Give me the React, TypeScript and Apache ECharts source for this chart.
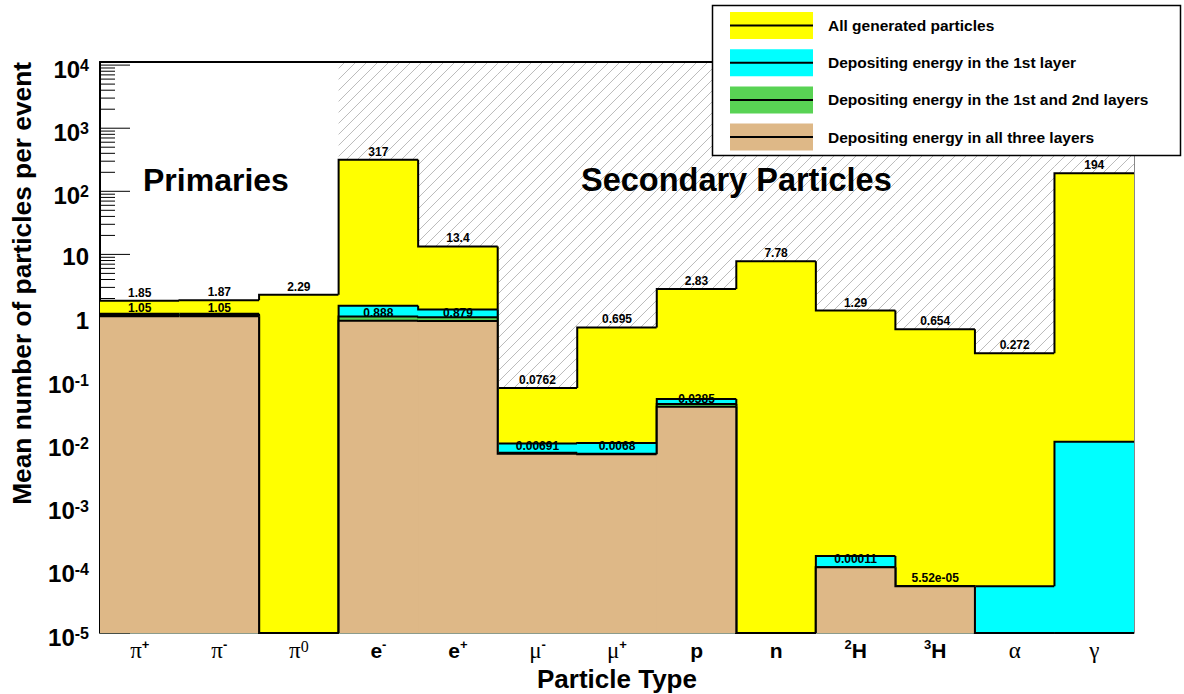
import React, { useEffect, useRef } from 'react';
import * as echarts from 'echarts';

// ---------- data ----------
const categoryLabels = [
  '{g|π}{gs|+}', '{g|π}{gs|-}', '{g|π}{g0|0}', '{b|e}{bs|-}', '{b|e}{bs|+}',
  '{g|μ}{gs|-}', '{g|μ}{gs|+}', '{b|p}', '{b|n}', '{bs|2}{b|H}', '{bs|3}{b|H}', '{g|α}', '{g|γ}',
];
const particleOrigin = [
  'primary', 'primary', 'primary', 'secondary', 'secondary', 'secondary', 'secondary',
  'secondary', 'secondary', 'secondary', 'secondary', 'secondary', 'secondary',
];
const allGenerated = [1.85, 1.87, 2.29, 317, 13.4, 0.0762, 0.695, 2.83, 7.78, 1.29, 0.654, 0.272, 194];
const firstLayer = [1.15, 1.15, 0, 1.53, 1.34, 0.0101, 0.0103, 0.051, 0, 0.000166, 0.0000552, 0.0000553, 0.0107];
const firstSecondLayers = [1.1, 1.1, 0, 1.04, 1.01, 0.0072, 0.0069, 0.0425, 0, 0.00011, 0.0000552, 0, 0];
const allThreeLayers = [1.05, 1.05, 0, 0.888, 0.879, 0.00691, 0.0068, 0.0385, 0, 0.00011, 0.0000552, 0, 0];
const legendNames = [
  'All generated particles',
  'Depositing energy in the 1st layer',
  'Depositing energy in the 1st and 2nd layers',
  'Depositing energy in all three layers',
];
const yTitle = 'Mean number of particles per event';
const xTitle = 'Particle Type';

// ---------- styles ----------
const FONT = '"Liberation Sans", Arial, Helvetica, sans-serif';
const SERIF = '"Liberation Serif", "DejaVu Serif", serif';
const layerColors = ['#ffff00', '#00ffff', '#59d354', '#deb887'];
const Y_MIN = 1e-5;
const Y_MAX = 1.12e4;

function fmtG(v: number): string {
  if (v < 1e-4) {
    const [m, e] = v.toExponential(2).split('e');
    const sign = e[0] === '-' ? '-' : '+';
    const digits = e.replace(/[+-]/, '').padStart(2, '0');
    return `${m}e${sign}${digits}`;
  }
  let s = v.toPrecision(3);
  if (s.includes('.')) s = s.replace(/0+$/, '').replace(/\.$/, '');
  return s;
}

function makeLayer(name: string, values: number[], color: string, showLabels: boolean) {
  return {
    type: 'custom',
    name,
    xAxisIndex: 0,
    yAxisIndex: 0,
    clip: false,
    encode: { x: 0, y: 1 },
    data: values.map((v, i) => [i, v]),
    renderItem: (params: any, api: any) => {
      const i = params.dataIndex;
      const raw = values[i];
      const v = raw > 0 ? raw : Y_MIN;
      const bw = api.size([1, 0])[0];
      const c = api.coord([i, v]);
      const base = api.coord([i, Y_MIN]);
      const x0 = c[0] - bw / 2;
      const x1 = c[0] + bw / 2;
      const children: any[] = [];
      if (raw > 0) {
        const overlap = i < values.length - 1 ? 0.8 : 0;
        children.push({
          type: 'rect',
          shape: { x: x0, y: c[1], width: bw + overlap, height: base[1] - c[1] },
          style: { fill: color },
        });
      }
      const pts: number[][] = [];
      if (i > 0) {
        const pvRaw = values[i - 1];
        const pc = api.coord([i - 1, pvRaw > 0 ? pvRaw : Y_MIN]);
        pts.push([x0, pc[1]]);
      }
      pts.push([x0, c[1]], [x1, c[1]]);
      children.push({
        type: 'polyline',
        shape: { points: pts },
        style: { stroke: '#000', lineWidth: 2, fill: null },
      });
      if (showLabels && raw > 0) {
        children.push({
          type: 'text',
          style: {
            text: fmtG(raw),
            x: c[0],
            y: c[1] - 2,
            align: 'center',
            verticalAlign: 'bottom',
            font: `bold 12px ${FONT}`,
            fill: '#000',
          },
        });
      }
      return { type: 'group', children };
    },
  };
}

export default function App() {
  const ref = useRef<HTMLDivElement>(null);

  useEffect(() => {
    if (!ref.current) return;
    const chart = echarts.init(ref.current, null, { renderer: 'svg' });

    // axis tick positions (decades and 2..9 sub-ticks)
    const tickData: number[][] = [];
    for (let e = -5; e <= 4; e++) {
      tickData.push([0, Math.pow(10, e), 1]);
      if (e < 4) for (let m = 2; m <= 9; m++) tickData.push([0, m * Math.pow(10, e), 0]);
    }

    const hatchData = allGenerated
      .map((v, i) => [i, v])
      .filter((_, i) => particleOrigin[i] === 'secondary');

    const HATCH = 11;
    const LZ = 200;

    const legendElements: any[] = [
      {
        type: 'rect',
        z: LZ,
        shape: { x: 712.5, y: 5.5, width: 468, height: 150 },
        style: { fill: '#fff', stroke: '#000', lineWidth: 1.5 },
      },
    ];
    legendNames.forEach((nm, r) => {
      const cy = 25.5 + r * 37.2;
      legendElements.push(
        { type: 'rect', z: LZ + 1, shape: { x: 730, y: cy - 13.5, width: 83, height: 27 }, style: { fill: layerColors[r] } },
        { type: 'line', z: LZ + 2, shape: { x1: 730, y1: cy, x2: 813, y2: cy }, style: { stroke: '#000', lineWidth: 2 } },
        {
          type: 'text',
          z: LZ + 2,
          x: 828,
          y: cy,
          style: { text: nm, font: `bold 15.5px ${FONT}`, align: 'left', verticalAlign: 'middle', fill: '#000' },
        },
      );
    });

    const option: any = {
      animation: false,
      backgroundColor: '#fff',
      grid: { left: 100, right: 50, top: 62, bottom: 61, containLabel: false, outerBoundsMode: 'none' },
      xAxis: [
        {
          type: 'category',
          data: categoryLabels,
          position: 'bottom',
          boundaryGap: true,
          axisLine: { show: true, lineStyle: { color: '#8c9c8c', width: 1 } },
          axisTick: { show: false },
          splitLine: { show: false },
          name: xTitle,
          nameLocation: 'middle',
          nameGap: 26,
          nameTextStyle: { fontSize: 26, fontWeight: 'bold', fontFamily: FONT, color: '#000', verticalAlign: 'top' },
          axisLabel: {
            margin: 5,
            interval: 0,
            formatter: (v: string) => v,
            rich: {
              g: { fontFamily: SERIF, fontSize: 23, color: '#000', lineHeight: 24 },
              gs: { fontFamily: FONT, fontSize: 13, fontWeight: 'bold', color: '#000', verticalAlign: 'top', lineHeight: 14 },
              g0: { fontFamily: SERIF, fontSize: 16, color: '#000', verticalAlign: 'top', lineHeight: 16 },
              b: { fontFamily: FONT, fontSize: 21, fontWeight: 'bold', color: '#000', lineHeight: 24 },
              bs: { fontFamily: FONT, fontSize: 13, fontWeight: 'bold', color: '#000', verticalAlign: 'top', lineHeight: 14 },
            },
          },
        },
        {
          type: 'category',
          data: categoryLabels,
          position: 'top',
          axisLine: { show: true, lineStyle: { color: '#000', width: 2 } },
          axisTick: { show: false },
          axisLabel: { show: false },
          splitLine: { show: false },
        },
      ],
      yAxis: [
        {
          type: 'log',
          logBase: 10,
          min: Y_MIN,
          max: Y_MAX,
          splitNumber: 9,
          position: 'left',
          axisLine: { show: true, lineStyle: { color: '#000', width: 2 } },
          axisTick: { show: false },
          splitLine: { show: false },
          axisLabel: {
            margin: 11,
            formatter: (v: number) => {
              const l = Math.log10(v);
              const e = Math.round(l);
              if (Math.abs(l - e) > 1e-6) return '';
              if (e === 0) return '{n|1}';
              if (e === 1) return '{n|10}';
              return `{b|10}{s|${e}}`;
            },
            rich: {
              n: { fontFamily: FONT, fontSize: 24, fontWeight: 'bold', color: '#000', lineHeight: 24, padding: [5, 0, 0, 0] },
              b: { fontFamily: FONT, fontSize: 24, fontWeight: 'bold', color: '#000', lineHeight: 24, padding: [8, 0, 0, 0] },
              s: { fontFamily: FONT, fontSize: 16, fontWeight: 'bold', color: '#000', lineHeight: 16, padding: [4, 0, 0, 0], verticalAlign: 'top' },
            },
          },
        },
        {
          type: 'log',
          logBase: 10,
          min: Y_MIN,
          max: Y_MAX,
          position: 'right',
          axisLine: { show: true, lineStyle: { color: '#888', width: 1 } },
          axisTick: { show: false },
          axisLabel: { show: false },
          splitLine: { show: false },
        },
      ],
      series: [
        {
          type: 'custom',
          name: 'ticks',
          clip: false,
          encode: { x: 0, y: 1 },
          data: tickData,
          renderItem: (params: any, api: any) => {
            const v = api.value(1);
            const major = api.value(2) === 1;
            const bw = api.size([1, 0])[0];
            const c = api.coord([0, v]);
            const x0 = c[0] - bw / 2;
            return {
              type: 'line',
              shape: { x1: x0, y1: c[1], x2: x0 + (major ? 30 : 15), y2: c[1] },
              style: { stroke: '#000', lineWidth: 1 },
            };
          },
        },
        {
          type: 'custom',
          name: 'hatch',
          clip: false,
          encode: { x: 0, y: 1 },
          data: hatchData,
          renderItem: (params: any, api: any) => {
            const i = api.value(0);
            const v = api.value(1);
            const bw = api.size([1, 0])[0];
            const top = api.coord([i, Y_MAX]);
            const bot = api.coord([i, v]);
            const x0 = top[0] - bw / 2;
            const x1 = top[0] + bw / 2;
            const y0 = top[1] + 1;
            const y1 = bot[1];
            const children: any[] = [];
            const cStart = Math.ceil((x0 + y0) / HATCH) * HATCH;
            for (let c = cStart; c <= x1 + y1; c += HATCH) {
              const ax = Math.max(x0, c - y1);
              const bx = Math.min(x1, c - y0);
              if (bx - ax < 0.5) continue;
              children.push({
                type: 'line',
                shape: { x1: ax, y1: c - ax, x2: bx, y2: c - bx },
                style: { stroke: '#bcbcbc', lineWidth: 1 },
              });
            }
            return { type: 'group', children };
          },
        },
        makeLayer(legendNames[0], allGenerated, layerColors[0], true),
        makeLayer(legendNames[1], firstLayer, layerColors[1], false),
        makeLayer(legendNames[2], firstSecondLayers, layerColors[2], false),
        makeLayer(legendNames[3], allThreeLayers, layerColors[3], true),
      ],
      graphic: [
        {
          type: 'text',
          x: 22,
          y: 62,
          rotation: Math.PI / 2,
          z: 50,
          style: { text: yTitle, font: `bold 26.3px ${FONT}`, align: 'right', verticalAlign: 'middle', fill: '#000' },
        },
        {
          type: 'text',
          x: 143,
          y: 180,
          z: 50,
          style: { text: 'Primaries', font: `bold 32px ${FONT}`, align: 'left', verticalAlign: 'middle', fill: '#000' },
        },
        {
          type: 'text',
          x: 581,
          y: 180,
          z: 50,
          style: { text: 'Secondary Particles', font: `bold 32.5px ${FONT}`, align: 'left', verticalAlign: 'middle', fill: '#000' },
        },
        ...legendElements,
      ],
    };

    chart.setOption(option);
    return () => chart.dispose();
  }, []);

  return (
    <div
      ref={ref}
      style={{ position: 'absolute', left: 0, top: 0, width: 1184, height: 694, background: '#fff' }}
    />
  );
}
